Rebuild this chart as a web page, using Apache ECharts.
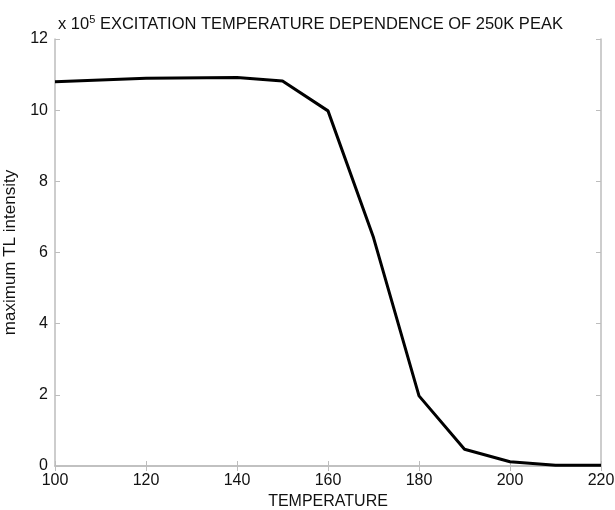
<!DOCTYPE html>
<html><head><meta charset="utf-8">
<script src="https://cdn.jsdelivr.net/npm/echarts@6/dist/echarts.min.js"></script>
<style>html,body{margin:0;padding:0;background:#fff}#c{width:615px;height:510px}</style>
</head><body><div id="c"></div>
<script>
const temperatures = [100, 120, 140, 150, 160, 170, 180, 190, 200, 210, 220];
const intensity = [10.8, 10.9, 10.92, 10.82, 9.98, 6.42, 1.97, 0.47, 0.12, 0.02, 0.02];
const xTicks = [100, 120, 140, 160, 180, 200, 220];
const yTicks = [0, 2, 4, 6, 8, 10, 12];

const font = 'Liberation Sans, Arial, sans-serif';
const axisColor = '#bdbdbd';
const chart = echarts.init(document.getElementById('c'));
const baseX = {type: 'value', min: xTicks[0], max: xTicks[xTicks.length-1], interval: 20,
  axisLine: {show: true, lineStyle: {color: axisColor, width: 1.5}},
  axisTick: {show: true, inside: true, length: 5, lineStyle: {color: axisColor}},
  splitLine: {show: false}};
const baseY = {type: 'value', min: yTicks[0], max: yTicks[yTicks.length-1], interval: 2,
  axisLine: {show: true, lineStyle: {color: axisColor, width: 1.5}},
  axisTick: {show: true, inside: true, length: 5, lineStyle: {color: axisColor}},
  splitLine: {show: false}};
chart.setOption({
  animation: false,
  backgroundColor: '#fff',
  title: {
    text: 'x 10{sup|5} EXCITATION TEMPERATURE DEPENDENCE OF 250K PEAK',
    left: 53, top: 9,
    textStyle: {fontFamily: font, fontSize: 16.5, fontWeight: 'normal', color: '#111',
      rich: {sup: {fontFamily: font, fontSize: 11, color: '#111', verticalAlign: 'top', padding: [0,0,9,0]}}}
  },
  grid: {left: 55, right: 14, top: 39, bottom: 44, containLabel: false, outerBoundsMode: 'none'},
  xAxis: [
    Object.assign({}, baseX, {position: 'bottom', name: 'TEMPERATURE', nameLocation: 'middle', nameGap: 25,
      nameTextStyle: {fontFamily: font, fontSize: 16, color: '#111'},
      axisLabel: {fontFamily: font, fontSize: 16, color: '#111', margin: 7}}),
    Object.assign({}, baseX, {position: 'top', axisLabel: {show: false}})
  ],
  yAxis: [
    Object.assign({}, baseY, {position: 'left', name: 'maximum TL intensity', nameLocation: 'middle', nameGap: 32,
      nameTextStyle: {fontFamily: font, fontSize: 17, color: '#111'},
      axisLabel: {fontFamily: font, fontSize: 16, color: '#111', margin: 7}}),
    Object.assign({}, baseY, {position: 'right', axisLabel: {show: false}})
  ],
  series: [{
    type: 'line', xAxisIndex: 0, yAxisIndex: 0,
    data: temperatures.map((t, i) => [t, intensity[i]]),
    showSymbol: false, symbol: 'none',
    lineStyle: {color: '#000', width: 3}
  }]
});
</script></body></html>
